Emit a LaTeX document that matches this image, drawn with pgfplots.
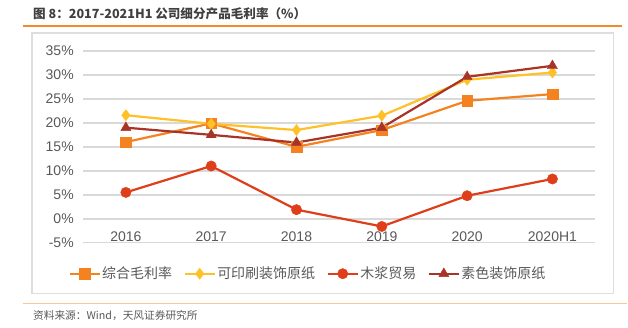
\documentclass[border=0pt]{standalone}
\usepackage{fontspec}
\setmainfont{Liberation Sans}
\newfontfamily\cjk{Noto Sans CJK SC}
\usepackage{pgfplots}
\pgfplotsset{compat=1.18}
\definecolor{cA}{RGB}{245,130,32}
\definecolor{cB}{RGB}{255,192,40}
\definecolor{cC}{RGB}{222,62,26}
\definecolor{cD}{RGB}{168,52,40}
\definecolor{titlegray}{RGB}{64,64,64}
\definecolor{tickgray}{RGB}{89,89,89}
\definecolor{gridgray}{RGB}{217,217,217}
\definecolor{boxgray}{RGB}{222,222,222}
\definecolor{toporange}{RGB}{243,140,40}
\definecolor{lightorange}{RGB}{250,200,150}
\begin{document}
\begin{tikzpicture}
\path (0pt,0pt) rectangle (628pt,328pt);
\node[anchor=west, inner sep=0, text=titlegray, font=\cjk\bfseries\fontsize{12.6}{15}\selectfont] at (33pt,314pt) {图 8：2017-2021H1 公司细分产品毛利率（\%）};
\draw[toporange, line width=1.3pt] (23pt,302pt) -- (623pt,302pt);
\draw[boxgray, line width=1.2pt] (32pt,295pt) rectangle (614pt,34pt);
\draw[lightorange, line width=1.3pt] (23pt,24pt) -- (628pt,24pt);
\node[anchor=west, inner sep=0, text=tickgray, font=\cjk\fontsize{10.7}{13}\selectfont] at (33pt,12.3pt) {资料来源：Wind，天风证券研究所};
\begin{axis}[
  at={(83.3pt,85pt)}, anchor=south west,
  scale only axis, width=512.4pt, height=192pt,
  xmin=-0.5, xmax=5.5, ymin=-5, ymax=35,
  axis line style={draw=none},
  xtick={0,1,2,3,4,5},
  xticklabels={2016,2017,2018,2019,2020,2020H1},
  ytick={-5,0,5,10,15,20,25,30,35},
  yticklabels={-5\%,0\%,5\%,10\%,15\%,20\%,25\%,30\%,35\%},
  major tick length=0pt,
  tick label style={text=tickgray, font=\fontsize{14}{16}\selectfont},
  xticklabel style={anchor=base, yshift=1.5pt},
  yticklabel style={anchor=east, xshift=-6pt},
  ymajorgrids, grid style={gridgray, line width=1.5pt},
  legend columns=4,
  legend style={at={(0.4385,-0.1615)}, anchor=center, draw=none, fill=none,
    font=\cjk\fontsize{14}{16}\selectfont, text=tickgray,
    nodes={inner sep=1.5pt},
    /tikz/every even column/.append style={column sep=10pt},
    /tikz/every odd column/.append style={column sep=0pt}},
  legend image code/.code={
    \draw[#1, mark=none] (0pt,0pt) -- (30pt,0pt);
    \draw[#1] plot coordinates {(15pt,0pt)};},
  every axis plot/.append style={line width=2.2pt},
]
\addplot[cA, mark=square*, mark size=5.3pt, mark options={solid, line width=0.4pt}] coordinates {(0,16.0) (1,19.9) (2,15.0) (3,18.5) (4,24.6) (5,26.0)};
\addlegendentry{综合毛利率}
\addplot[cB, mark=diamond*, mark size=5.6pt, mark options={solid, line width=0.4pt}] coordinates {(0,21.6) (1,19.8) (2,18.5) (3,21.5) (4,29.0) (5,30.5)};
\addlegendentry{可印刷装饰原纸}
\addplot[cC, mark=*, mark size=5.2pt, mark options={solid, line width=0.4pt}] coordinates {(0,5.5) (1,11.0) (2,1.9) (3,-1.6) (4,4.8) (5,8.3)};
\addlegendentry{木浆贸易}
\addplot[cD, mark=triangle*, mark size=5.8pt, mark options={solid, line width=0.4pt}] coordinates {(0,19.0) (1,17.5) (2,15.9) (3,19.0) (4,29.6) (5,31.9)};
\addlegendentry{素色装饰原纸}
\end{axis}
\end{tikzpicture}
\end{document}
